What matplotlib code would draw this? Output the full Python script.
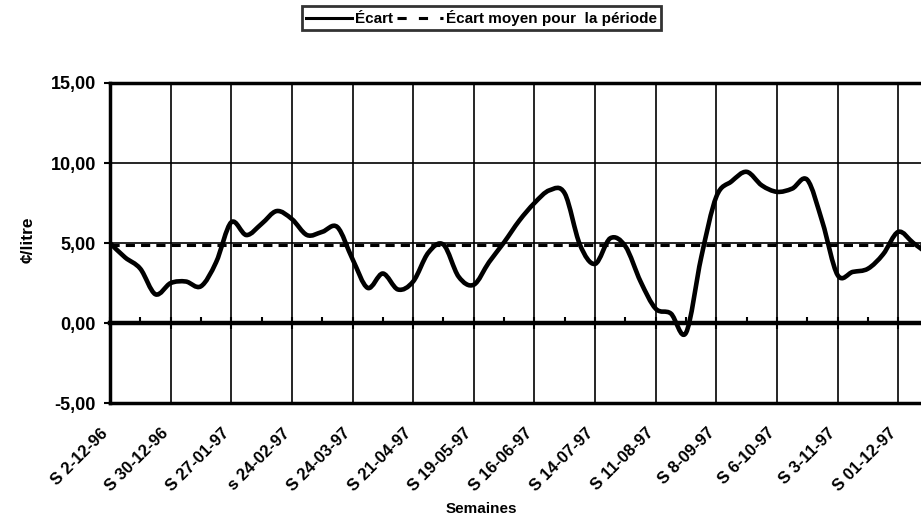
import numpy as np
import matplotlib
matplotlib.use("Agg")
import matplotlib.pyplot as plt
import matplotlib.transforms as mtransforms
from matplotlib.path import Path
from matplotlib.patches import PathPatch
from matplotlib.lines import Line2D
from matplotlib.ticker import MultipleLocator

plt.rcParams['font.family'] = ['Liberation Sans', 'DejaVu Sans']
plt.rcParams['font.weight'] = 'bold'

# weekly gap, cents per litre, week 0 = S 2-12-96
ecart = [5.0, 4.1, 3.4, 1.8, 2.5, 2.6, 2.3, 3.8, 6.3, 5.5,
         6.2, 7.0, 6.5, 5.5, 5.7, 6.0, 4.0, 2.2, 3.1, 2.1,
         2.6, 4.4, 4.9, 2.9, 2.4, 3.8, 5.05, 6.4, 7.5, 8.3,
         8.1, 4.9, 3.7, 5.3, 4.8, 2.6, 0.9, 0.6, -0.6, 4.1,
         7.9, 8.85, 9.45, 8.6, 8.2, 8.4, 8.95, 6.3, 3.0, 3.2,
         3.4, 4.3, 5.7, 5.0, 4.3]
ecart_moyen = 4.85

week_labels = ["S 2-12-96", "S 30-12-96", "S 27-01-97", "s 24-02-97",
               "S 24-03-97", "S 21-04-97", "S 19-05-97", "S 16-06-97",
               "S 14-07-97", "S 11-08-97", "S 8-09-97", "S 6-10-97",
               "S 3-11-97", "S 01-12-97"]
y_ticks = [-5, 0, 5, 10, 15]

weeks = np.arange(len(ecart), dtype=float)
vals = np.array(ecart)
label_pos = np.arange(len(week_labels)) * 4


def smooth_path(x, y):
    # smoothed line through the points (like the spreadsheet "smoothed line")
    pts = np.column_stack([x, y])
    padded = np.vstack([pts[0], pts, pts[-1]])
    verts = [pts[0]]
    codes = [Path.MOVETO]
    for i in range(len(pts) - 1):
        p0, p1, p2, p3 = padded[i], padded[i + 1], padded[i + 2], padded[i + 3]
        verts += [p1 + (p2 - p0) / 6, p2 - (p3 - p1) / 6, p2]
        codes += [Path.CURVE4] * 3
    return Path(verts, codes)


fig = plt.figure(figsize=(9.21, 5.25), dpi=100)
ax = fig.add_axes([0.1194, 0.232, 0.8806, 0.610])

ax.set_xlim(0, 53.5)
ax.set_ylim(-5, 15)

# grid
for yv in y_ticks:
    ax.axhline(yv, color='black', lw=1.2, zorder=1)
for xv in label_pos:
    ax.axvline(xv, color='black', lw=1.2, zorder=1)

ax.add_patch(PathPatch(smooth_path(weeks, vals), facecolor='none',
                       edgecolor='black', lw=3.3, capstyle='round',
                       joinstyle='round', zorder=4))
ax.plot([weeks[0], weeks[-1]], [ecart_moyen, ecart_moyen], color='black',
        lw=2.2, ls=(0, (3, 2)), zorder=3)

# axis line at zero with category ticks
sec = ax.secondary_xaxis(0.25)
sec.xaxis.set_ticks_position('bottom')
sec.set_xticks(label_pos, labels=[])
sec.xaxis.set_minor_locator(MultipleLocator(2))
sec.tick_params(which='major', direction='inout', length=8, width=1.5)
sec.tick_params(which='minor', direction='in', length=4, width=1.5)
for s in sec.spines.values():
    s.set_linewidth(3.2)

ax.set_xticks(label_pos)
ax.set_xticklabels(week_labels, rotation=45, ha='right', va='top',
                   rotation_mode='anchor', fontsize=12, fontweight='bold')
ax.tick_params(axis='x', length=0, pad=16)
shift = mtransforms.ScaledTranslation(-7 / 72, 0, fig.dpi_scale_trans)
for lab in ax.get_xticklabels():
    lab.set_transform(lab.get_transform() + shift)

ax.set_yticks(y_ticks)
ax.set_yticklabels([f"{v:.2f}".replace('.', ',') for v in y_ticks],
                   fontsize=13, fontweight='bold')
ax.tick_params(axis='y', length=4, width=1.5, pad=6)

for side in ['left', 'top', 'bottom']:
    ax.spines[side].set_linewidth(2.5)
ax.spines['right'].set_visible(False)

ax.set_ylabel('¢/litre', fontsize=12.5, fontweight='bold')
ax.yaxis.set_label_coords(-0.092, 0.51)
ax.set_xlabel('Semaines', fontsize=11, fontweight='bold')
ax.xaxis.set_label_coords(0.458, -0.31)

handles = [Line2D([], [], color='black', lw=2.2),
           Line2D([], [], color='black', lw=2.2, ls=(0, (3, 4)))]
leg = fig.legend(handles, ['Écart', 'Écart moyen pour  la période'],
                 loc='center', bbox_to_anchor=(0.523, 0.966), ncol=2,
                 frameon=True, fancybox=False, edgecolor='black',
                 fontsize=11, handlelength=3.0, handletextpad=0.2,
                 columnspacing=0.3, borderpad=0.25)
leg.get_frame().set_linewidth(2)

fig.savefig('out.png', dpi=100)
